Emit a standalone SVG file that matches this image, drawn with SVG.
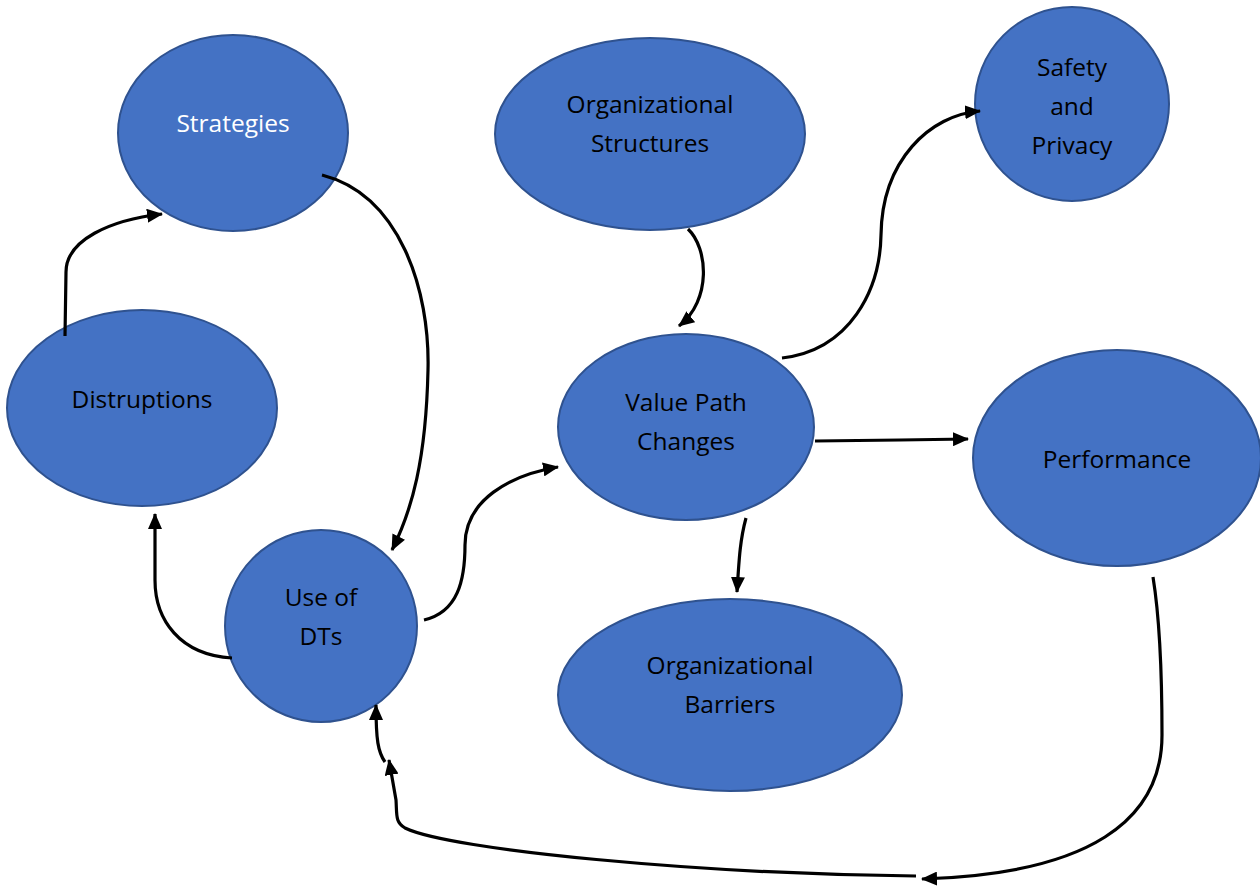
<svg xmlns="http://www.w3.org/2000/svg" width="1260" height="886" viewBox="0 0 1260 886">
  <defs>
    <marker id="arrow" viewBox="0 0 16 14" refX="15" refY="7" markerWidth="16" markerHeight="14" markerUnits="userSpaceOnUse" orient="auto">
      <path d="M0,0 L16,7 L0,14 Z" fill="#000"/>
    </marker>
    <style>
      .node { fill: #4472C4; stroke: #2F528F; stroke-width: 2; }
      .label { font-family: "Open Sans", "Liberation Sans", sans-serif; font-size: 24.5px; fill: #000; text-anchor: middle; }
      .light { fill: #fff; }
      .edge { fill: none; stroke: #000; stroke-width: 3.2; stroke-linecap: butt; }
    </style>
  </defs>
  <rect width="1260" height="886" fill="#fff"/>

  <g id="strategies">
    <ellipse class="node" cx="233" cy="133" rx="115" ry="98"/>
    <text class="label light" x="233" y="132">Strategies</text>
  </g>
  <g id="organizational-structures">
    <ellipse class="node" cx="650" cy="134" rx="155" ry="96"/>
    <text class="label" x="650" y="113">Organizational</text>
    <text class="label" x="650" y="152">Structures</text>
  </g>
  <g id="safety-and-privacy">
    <ellipse class="node" cx="1072" cy="104" rx="97" ry="97"/>
    <text class="label" x="1072" y="76">Safety</text>
    <text class="label" x="1072" y="115">and</text>
    <text class="label" x="1072" y="154">Privacy</text>
  </g>
  <g id="distruptions">
    <ellipse class="node" cx="142" cy="408" rx="135" ry="98"/>
    <text class="label" x="142" y="408">Distruptions</text>
  </g>
  <g id="value-path-changes">
    <ellipse class="node" cx="686" cy="427" rx="128" ry="93"/>
    <text class="label" x="686" y="411">Value Path</text>
    <text class="label" x="686" y="450">Changes</text>
  </g>
  <g id="performance">
    <ellipse class="node" cx="1117" cy="458" rx="144" ry="108"/>
    <text class="label" x="1117" y="468">Performance</text>
  </g>
  <g id="use-of-dts">
    <circle class="node" cx="321" cy="626" r="96"/>
    <text class="label" x="321" y="606">Use of</text>
    <text class="label" x="321" y="645">DTs</text>
  </g>
  <g id="organizational-barriers">
    <ellipse class="node" cx="730" cy="695" rx="172" ry="96"/>
    <text class="label" x="730" y="674">Organizational</text>
    <text class="label" x="730" y="713">Barriers</text>
  </g>

  <g id="connectors">
    <!-- Distruptions -> Strategies -->
    <path class="edge" marker-end="url(#arrow)" d="M65,336 L66,272 C66,240 110,220 162,214"/>
    <!-- Strategies -> Use of DTs -->
    <path class="edge" marker-end="url(#arrow)" d="M322,175 C400,195 430,290 428,370 C426,460 412,510 392,550"/>
    <!-- Use of DTs -> Distruptions -->
    <path class="edge" marker-end="url(#arrow)" d="M232,658 C180,655 155,620 155,580 L155,514"/>
    <!-- Use of DTs -> Value Path Changes -->
    <path class="edge" marker-end="url(#arrow)" d="M424,620 C458,612 465,580 465,545 C465,500 510,475 558,467"/>
    <!-- Organizational Structures -> Value Path Changes -->
    <path class="edge" marker-end="url(#arrow)" d="M688,229 C708,248 712,300 679,326"/>
    <!-- Value Path Changes -> Safety and Privacy -->
    <path class="edge" marker-end="url(#arrow)" d="M782,358 C850,350 880,290 881,235 C882,160 930,115 980,111"/>
    <!-- Value Path Changes -> Performance -->
    <path class="edge" marker-end="url(#arrow)" d="M815,441 L900,440 L968,439"/>
    <!-- Value Path Changes -> Organizational Barriers -->
    <path class="edge" marker-end="url(#arrow)" d="M746,518 C740,540 739,560 737,592"/>
    <!-- Performance -> back towards Use of DTs -->
    <path class="edge" marker-end="url(#arrow)" d="M1153,577 C1160,620 1162,680 1162,735 C1162,820 1090,874 922,879"/>
    <path class="edge" marker-end="url(#arrow)" d="M916,876 C700,874 450,850 405,828 C395,822 397,815 396,800 L389,760"/>
    <path class="edge" marker-end="url(#arrow)" d="M385,762 C378,752 376,740 376,705"/>
  </g>
</svg>
